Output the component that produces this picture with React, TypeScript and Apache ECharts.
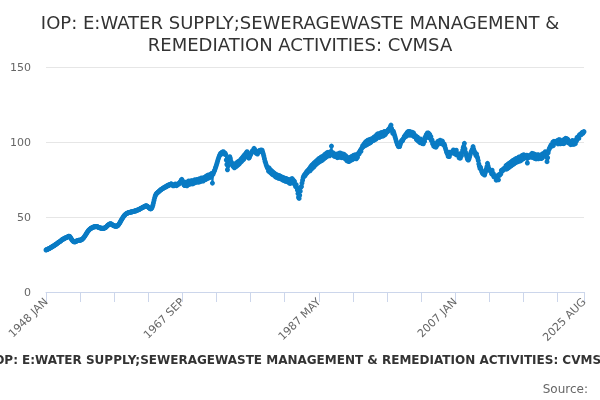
import React, { useEffect, useRef } from "react";
import * as echarts from "echarts";

const TITLE = "IOP: E:WATER SUPPLY;SEWERAGEWASTE MANAGEMENT &\nREMEDIATION ACTIVITIES: CVMSA";
const SERIES_NAME = "IOP: E:WATER SUPPLY;SEWERAGEWASTE MANAGEMENT & REMEDIATION ACTIVITIES: CVMSA";
const SOURCE = "Source:";
const MONTHS = ["JAN", "FEB", "MAR", "APR", "MAY", "JUN", "JUL", "AUG", "SEP", "OCT", "NOV", "DEC"];
const START_YEAR = 1948;
const Y_TICKS = [0, 50, 100, 150];

// monthly values, one row per year (1948 .. 2025 AUG)
const v1948_1957 = [
  [28.0, 28.2, 28.4, 28.5, 28.7, 28.9, 29.1, 29.3, 29.6, 29.8, 30.0, 30.3],
  [30.5, 30.7, 30.9, 31.2, 31.5, 31.7, 32.0, 32.3, 32.6, 32.9, 33.2, 33.4],
  [33.6, 33.9, 34.3, 34.6, 34.9, 35.2, 35.3, 35.5, 35.8, 36.0, 36.1, 36.3],
  [36.4, 36.6, 36.9, 37.1, 37.2, 37.0, 36.5, 35.9, 35.3, 34.7, 34.2, 33.8],
  [33.6, 33.5, 33.4, 33.6, 33.8, 34.0, 34.2, 34.3, 34.4, 34.5, 34.5, 34.6],
  [34.6, 34.8, 35.0, 35.3, 35.7, 36.1, 36.6, 37.2, 37.8, 38.4, 39.0, 39.6],
  [40.2, 40.7, 41.2, 41.6, 41.9, 42.2, 42.5, 42.7, 42.9, 43.1, 43.3, 43.4],
  [43.5, 43.6, 43.6, 43.7, 43.6, 43.5, 43.3, 43.1, 42.9, 42.8, 42.7, 42.6],
  [42.5, 42.4, 42.4, 42.4, 42.5, 42.6, 42.8, 43.0, 43.3, 43.7, 44.1, 44.5],
  [44.8, 45.1, 45.3, 45.4, 45.5, 45.3, 45.1, 44.8, 44.5, 44.3, 44.1, 44.0],
];
const v1958_1967 = [
  [43.9, 43.8, 43.9, 44.0, 44.2, 44.6, 45.1, 45.7, 46.3, 47.0, 47.7, 48.4],
  [49.0, 49.6, 50.2, 50.7, 51.2, 51.6, 51.9, 52.2, 52.4, 52.6, 52.8, 52.9],
  [53.0, 53.2, 53.1, 53.3, 53.5, 53.4, 53.6, 53.8, 53.7, 53.9, 54.1, 54.0],
  [54.2, 54.4, 54.6, 54.7, 54.8, 55.0, 55.2, 55.5, 55.7, 55.9, 56.1, 56.3],
  [56.5, 56.7, 56.9, 57.1, 57.3, 57.5, 57.4, 57.2, 56.9, 56.6, 56.2, 55.9],
  [55.6, 55.4, 55.6, 56.0, 56.8, 58.0, 59.5, 61.2, 62.8, 64.0, 64.9, 65.5],
  [65.9, 66.3, 66.6, 66.9, 67.2, 67.6, 68.0, 68.3, 68.5, 68.7, 69.0, 69.3],
  [69.5, 69.7, 70.0, 70.3, 70.1, 70.6, 71.0, 70.8, 71.3, 71.5, 71.2, 71.8],
  [71.9, 72.1, 71.6, 71.2, 70.8, 71.3, 70.9, 71.5, 72.0, 71.4, 70.9, 71.5],
  [71.8, 72.3, 72.0, 72.6, 73.2, 73.8, 74.5, 75.1, 74.2, 73.0, 72.0, 71.3],
];
const v1968_1977 = [
  [71.0, 73.2, 71.5, 72.9, 70.8, 73.4, 71.6, 74.0, 71.9, 73.5, 72.0, 74.1],
  [72.3, 74.2, 72.1, 73.9, 72.6, 74.8, 72.9, 74.3, 73.2, 75.0, 73.4, 74.6],
  [73.2, 75.4, 73.5, 75.1, 73.8, 76.0, 74.2, 75.6, 74.0, 76.3, 74.7, 76.1],
  [75.0, 77.2, 75.4, 77.6, 75.9, 78.0, 76.1, 77.8, 76.5, 78.6, 77.0, 79.0],
  [72.6, 78.5, 79.6, 80.5, 81.3, 82.5, 83.6, 84.8, 86.0, 87.4, 88.6, 89.8],
  [90.8, 91.5, 92.4, 91.8, 92.9, 93.3, 92.6, 93.5, 92.8, 91.9, 92.5, 91.6],
  [88.0, 85.0, 81.5, 84.0, 87.5, 89.6, 90.2, 89.0, 87.2, 86.0, 85.1, 84.4],
  [83.6, 85.4, 82.8, 84.9, 83.4, 85.8, 84.0, 86.5, 84.6, 87.1, 85.2, 86.9],
  [86.2, 88.4, 86.9, 89.2, 87.8, 90.3, 88.4, 91.2, 89.6, 92.0, 90.8, 93.1],
  [93.5, 92.0, 90.4, 89.2, 89.8, 90.9, 91.6, 92.5, 93.2, 94.0, 93.4, 94.6],
];
const v1978_1987 = [
  [95.8, 95.0, 94.2, 93.1, 92.4, 93.0, 92.0, 93.2, 93.9, 94.3, 93.6, 94.2],
  [94.7, 93.8, 94.5, 93.2, 92.0, 90.5, 88.9, 87.2, 86.1, 84.9, 83.8, 82.9],
  [82.4, 80.6, 82.8, 80.1, 81.5, 79.4, 80.9, 78.6, 80.2, 78.1, 79.5, 77.8],
  [78.9, 76.8, 78.4, 76.5, 78.0, 76.1, 77.7, 75.8, 77.5, 75.6, 77.1, 75.4],
  [76.6, 74.8, 76.4, 74.5, 76.0, 74.1, 75.7, 73.8, 75.6, 73.6, 75.2, 73.5],
  [74.8, 72.6, 74.5, 72.4, 75.3, 73.0, 75.6, 72.8, 74.6, 72.5, 73.8, 71.5],
  [70.2, 71.5, 69.8, 68.0, 65.6, 63.2, 62.4, 64.5, 67.2, 69.8, 70.4, 72.6],
  [74.5, 76.2, 77.3, 78.0, 77.4, 79.1, 78.6, 80.2, 79.5, 81.0, 80.4, 81.8],
  [82.4, 80.8, 83.6, 81.9, 84.5, 82.6, 85.3, 83.2, 86.0, 84.1, 86.8, 85.0],
  [87.4, 85.6, 88.1, 86.2, 88.9, 86.8, 89.3, 87.2, 89.9, 87.6, 90.3, 88.1],
];
const v1988_1997 = [
  [90.6, 88.9, 91.5, 89.4, 92.0, 90.1, 92.8, 90.6, 93.1, 90.9, 92.7, 90.8],
  [92.6, 93.8, 97.3, 92.5, 91.6, 92.8, 91.2, 90.4, 91.5, 90.6, 91.9, 90.3],
  [89.6, 91.9, 89.8, 92.4, 90.1, 92.7, 90.3, 89.6, 92.1, 90.0, 91.9, 89.5],
  [91.8, 89.5, 88.7, 90.8, 88.1, 87.4, 89.6, 87.6, 87.0, 89.4, 87.5, 89.9],
  [88.0, 90.3, 88.2, 90.8, 88.7, 91.2, 89.0, 91.4, 89.6, 88.8, 91.6, 89.8],
  [91.6, 92.8, 92.1, 93.7, 94.5, 93.8, 95.6, 96.3, 97.5, 96.8, 98.2, 99.1],
  [97.6, 100.1, 98.0, 100.6, 98.5, 101.2, 98.9, 101.4, 99.2, 101.8, 99.7, 102.0],
  [100.6, 102.2, 101.0, 103.1, 101.2, 103.6, 102.7, 101.9, 104.8, 102.9, 105.4, 103.4],
  [105.3, 103.1, 105.8, 103.6, 106.3, 104.1, 106.1, 103.9, 106.6, 104.5, 107.0, 105.0],
  [105.8, 106.5, 107.3, 106.8, 107.9, 108.6, 107.8, 109.4, 110.2, 111.3, 109.0, 107.5],
];
const v1998_2007 = [
  [105.8, 107.2, 106.0, 104.8, 103.5, 102.1, 100.8, 99.6, 98.5, 97.8, 96.9, 98.2],
  [97.0, 98.4, 99.6, 100.5, 101.3, 100.8, 101.9, 102.6, 103.8, 103.2, 104.5, 105.3],
  [104.0, 106.4, 105.4, 107.0, 104.7, 106.9, 104.6, 106.8, 104.8, 105.8, 106.4, 104.1],
  [106.0, 103.6, 104.6, 103.2, 104.0, 101.6, 102.8, 103.2, 100.6, 101.6, 101.8, 99.6],
  [102.0, 99.8, 100.8, 99.0, 101.3, 98.8, 101.2, 100.4, 103.2, 102.6, 104.9, 104.1],
  [106.0, 103.9, 105.9, 102.7, 105.1, 103.0, 103.6, 100.9, 101.4, 98.8, 99.4, 97.2],
  [99.1, 96.8, 97.7, 96.6, 98.9, 97.9, 100.4, 99.3, 100.2, 99.6, 101.2, 99.0],
  [100.2, 99.5, 100.6, 99.0, 98.0, 98.7, 97.6, 96.1, 94.8, 93.5, 92.6, 91.8],
  [90.4, 93.0, 90.3, 93.2, 92.2, 93.0, 92.8, 93.6, 93.0, 94.7, 92.4, 94.3],
  [94.2, 91.8, 94.5, 91.3, 92.2, 91.7, 91.8, 89.4, 92.1, 89.2, 91.6, 90.8],
];
const v2008_2017 = [
  [92.8, 94.5, 96.3, 97.2, 99.1, 95.4, 93.2, 91.6, 90.4, 89.0, 88.2, 88.0],
  [88.9, 90.1, 91.5, 92.8, 93.6, 94.5, 95.3, 96.9, 95.2, 94.0, 93.1, 92.2],
  [91.0, 92.1, 90.3, 89.2, 87.6, 85.4, 83.9, 82.4, 83.1, 81.6, 80.3, 79.5],
  [78.8, 80.2, 78.5, 78.0, 79.4, 80.6, 82.1, 83.6, 85.8, 84.0, 82.5, 81.2],
  [81.4, 80.6, 81.0, 78.8, 81.2, 78.3, 79.0, 76.8, 77.6, 76.7, 76.8, 74.6],
  [75.6, 74.9, 77.8, 74.8, 78.2, 77.8, 78.7, 78.7, 81.1, 80.5, 81.4, 81.1],
  [82.3, 81.8, 82.6, 82.3, 84.3, 81.9, 84.8, 82.5, 85.4, 83.0, 85.9, 83.7],
  [86.4, 84.1, 87.0, 84.7, 87.7, 85.2, 88.1, 85.8, 88.6, 86.3, 89.0, 86.7],
  [89.2, 86.9, 89.9, 87.5, 89.8, 87.4, 90.4, 88.1, 91.0, 88.6, 91.4, 89.0],
  [91.3, 90.5, 91.0, 89.8, 91.2, 86.0, 89.6, 90.4, 89.7, 91.0, 90.2, 91.5],
];
const v2018_2025 = [
  [89.9, 92.4, 90.0, 92.1, 89.4, 91.9, 89.1, 91.4, 88.7, 91.2, 89.0, 91.5],
  [88.8, 91.3, 89.4, 90.2, 89.8, 89.0, 91.8, 89.5, 92.3, 91.2, 92.0, 91.8],
  [93.5, 92.4, 90.0, 86.9, 89.5, 92.8, 94.6, 95.5, 96.4, 97.1, 98.0, 97.2],
  [97.5, 99.9, 97.6, 100.4, 99.4, 100.2, 99.7, 100.5, 100.0, 100.9, 98.7, 101.4],
  [99.0, 101.5, 98.8, 99.9, 99.5, 99.7, 99.0, 101.3, 98.9, 101.8, 99.6, 102.4],
  [101.6, 102.3, 101.2, 101.8, 99.4, 100.4, 99.7, 100.0, 98.2, 99.4, 98.7, 101.0],
  [98.5, 99.4, 98.6, 99.6, 98.9, 101.4, 100.7, 103.1, 102.7, 103.4, 102.4, 104.8],
  [104.6, 105.3, 104.8, 105.9, 106.4, 105.7, 106.6, 106.9],
];

const ROWS = [
  ...v1948_1957,
  ...v1958_1967,
  ...v1968_1977,
  ...v1978_1987,
  ...v1988_1997,
  ...v1998_2007,
  ...v2008_2017,
  ...v2018_2025,
];

const values: number[] = [];
const categories: string[] = [];
ROWS.forEach((row, yi) => {
  row.forEach((v, mi) => {
    values.push(v);
    categories.push(`${START_YEAR + yi} ${MONTHS[mi]}`);
  });
});

const LAST = categories.length - 1;
const LABEL_STEP = 236;
const TICK_STEP = 59;

export default function App() {
  const ref = useRef<HTMLDivElement>(null);

  useEffect(() => {
    if (!ref.current) return;
    const chart = echarts.init(ref.current, undefined, { renderer: "svg" });
    chart.setOption({
      animation: false,
      textStyle: { fontFamily: "DejaVu Sans" },
      title: {
        text: TITLE,
        left: "center",
        top: 6,
        textStyle: {
          fontSize: 18,
          fontWeight: "normal",
          color: "#333333",
          lineHeight: 22,
          fontFamily: "DejaVu Sans",
        },
      },
      grid: { left: 46, right: 16, top: 67, bottom: 108, containLabel: false },
      xAxis: {
        type: "category",
        data: categories,
        boundaryGap: false,
        axisLine: { lineStyle: { color: "#ccd6eb" } },
        axisTick: {
          interval: (i: number) => i % TICK_STEP === 0 || i === LAST,
          length: 10,
          lineStyle: { color: "#ccd6eb" },
        },
        axisLabel: {
          interval: (i: number) => i % LABEL_STEP === 0 || i === LAST,
          rotate: 45,
          color: "#666666",
          fontSize: 11,
          margin: 8,
          fontFamily: "DejaVu Sans",
        },
        splitLine: { show: false },
      },
      yAxis: {
        type: "value",
        min: Y_TICKS[0],
        max: Y_TICKS[Y_TICKS.length - 1],
        interval: Y_TICKS[1] - Y_TICKS[0],
        axisLine: { show: false },
        axisTick: { show: false },
        axisLabel: { color: "#666666", fontSize: 11, margin: 15, fontFamily: "DejaVu Sans" },
        splitLine: { lineStyle: { color: "#e6e6e6" } },
      },
      series: [
        {
          name: SERIES_NAME,
          type: "line",
          data: values,
          color: "#0a7bc4",
          lineStyle: { width: 2, color: "#0a7bc4" },
          itemStyle: { color: "#0a7bc4" },
          symbol: "circle",
          symbolSize: 5,
          showSymbol: true,
          showAllSymbol: true,
        },
      ],
      graphic: [
        {
          type: "text",
          left: "center",
          top: 354,
          style: {
            text: SERIES_NAME,
            fill: "#333333",
            fontSize: 12,
            fontWeight: "bold",
            fontFamily: "DejaVu Sans",
          },
        },
        {
          type: "text",
          right: 12,
          top: 383,
          style: {
            text: SOURCE,
            fill: "#666666",
            fontSize: 12,
            fontFamily: "DejaVu Sans",
          },
        },
      ],
    });
    return () => chart.dispose();
  }, []);

  return (
    <div
      ref={ref}
      style={{ position: "fixed", left: 0, top: 0, width: 600, height: 400 }}
    />
  );
}
